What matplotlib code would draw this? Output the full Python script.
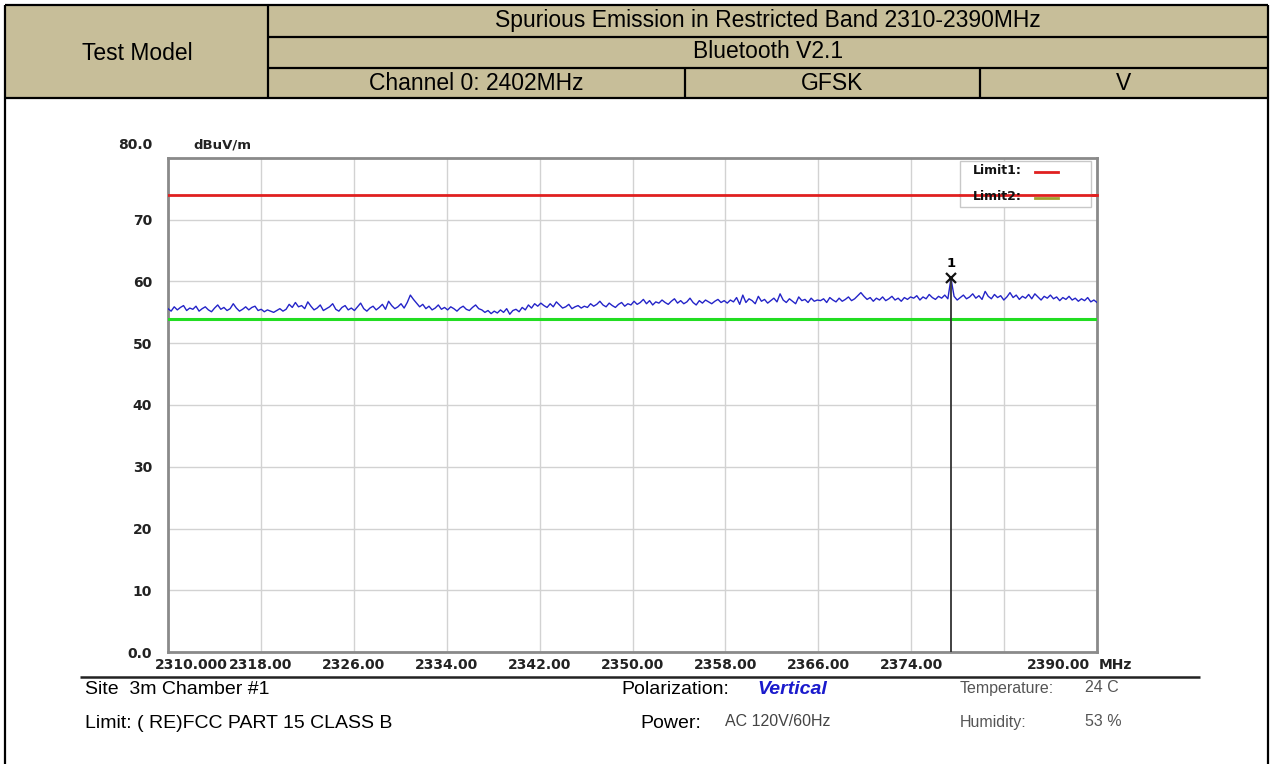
import numpy as np
import matplotlib
matplotlib.use("Agg")
import matplotlib.pyplot as plt
from matplotlib.patches import Rectangle
from matplotlib.transforms import offset_copy

# ---------------- data ----------------
freq_start = 2310.0
freq_stop = 2390.0
xtick_values = [2310, 2318, 2326, 2334, 2342, 2350, 2358, 2366, 2374, 2382, 2390]
xtick_labels = ["2310.000", "2318.00", "2326.00", "2334.00", "2342.00", "2350.00",
                "2358.00", "2366.00", "2374.00", "", "2390.00"]
ytick_values = [0, 10, 20, 30, 40, 50, 60, 70]
ytick_labels = ["0.0", "10", "20", "30", "40", "50", "60", "70"]
limit1_level = 74.0   # red
limit2_level = 54.0   # green
marker_index = 252
marker_label = "1"

trace_levels = [
    55.6, 55.2, 55.9, 55.4, 55.8, 56.1, 55.3, 55.7, 55.5, 56.0, 55.2, 55.6, 55.9, 55.4, 55.1,
    55.7, 56.2, 55.5, 55.8, 55.3, 55.6, 56.4, 55.7, 55.2, 55.5, 55.9, 55.4, 55.8, 56.0, 55.3,
    55.5, 55.1, 55.4, 55.2, 55.0, 55.3, 55.6, 55.2, 55.5, 56.3, 55.8, 56.6, 55.9, 56.1, 55.6,
    56.7, 56.0, 55.4, 55.7, 56.2, 55.3, 55.6, 55.9, 56.4, 55.5, 55.2, 55.8, 56.1, 55.4, 55.7,
    55.3, 55.9, 56.5, 55.6, 55.2, 55.7, 56.0, 55.4, 55.8, 56.3, 55.5, 56.8, 56.1, 55.6, 55.9,
    56.4, 55.7, 56.6, 57.8, 57.1, 56.5, 55.9, 56.3, 55.6, 56.0, 55.4, 55.7, 56.2, 55.5, 55.8,
    55.4, 55.9, 55.6, 55.2, 55.7, 56.0, 55.5, 55.3, 55.8, 56.2, 55.6, 55.4, 55.0, 55.3, 54.8,
    55.2, 54.9, 55.4, 55.0, 55.6, 54.7, 55.3, 55.5, 55.1, 55.8, 55.4, 56.2, 55.7, 56.4, 56.0,
    56.5, 56.1, 55.8, 56.4, 55.9, 56.7, 56.2, 55.7, 55.9, 56.3, 55.6, 55.9, 56.1, 55.7, 56.0,
    55.8, 56.4, 56.0, 56.3, 56.8, 56.2, 55.9, 56.5, 56.1, 55.8, 56.3, 56.6, 56.0, 56.4, 56.2,
    56.8, 56.3, 56.6, 57.1, 56.4, 56.9, 56.2, 56.7, 56.5, 57.0, 56.6, 56.3, 56.8, 57.2, 56.5,
    56.9, 56.4, 56.7, 57.3, 56.6, 56.2, 56.9, 56.5, 57.0, 56.7, 56.4, 56.8, 57.1, 56.6, 56.9,
    56.5, 57.0, 56.7, 57.4, 56.3, 57.8, 56.6, 57.2, 56.9, 56.4, 57.6, 56.8, 57.1, 56.5, 56.9,
    57.3, 56.7, 58.0, 57.0, 56.6, 57.2, 56.8, 56.4, 57.5, 56.9, 57.1, 56.6, 57.3, 56.8, 57.0,
    56.9, 57.2, 56.6, 57.4, 57.0, 56.7, 57.3, 56.8, 57.1, 57.5, 56.9, 57.2, 57.7, 58.2, 57.6,
    57.1, 57.4, 56.8, 57.3, 57.0, 57.5, 56.9, 57.2, 57.6, 57.0, 57.3, 56.8, 57.4, 57.1, 57.5,
    57.3, 57.7, 57.0, 57.5, 57.2, 57.9, 57.4, 57.1, 57.6, 57.3, 57.8, 57.2, 60.5, 57.6, 57.0,
    57.4, 57.8, 57.2, 57.5, 58.0, 57.3, 57.7, 57.1, 58.4, 57.6, 57.2, 57.9, 57.4, 57.7, 57.0,
    57.5, 58.2, 57.4, 57.8, 57.1, 57.6, 57.3, 57.9, 57.2, 58.0, 57.5, 57.0, 57.6, 57.3, 57.8,
    57.2, 57.5, 56.9, 57.4, 57.1, 57.6, 57.0, 57.3, 56.8, 57.2, 56.9, 57.4, 56.7, 57.0, 56.6,
]

header_title = "Spurious Emission in Restricted Band 2310-2390MHz"
header_tech = "Bluetooth V2.1"
header_channel = "Channel 0: 2402MHz"
header_mod = "GFSK"
header_pol = "V"

# ---------------- figure ----------------
W, H = 1273, 764
fig = plt.figure(figsize=(W / 100, H / 100), dpi=100)
fig.patch.set_facecolor("white")

# overlay in pixel coordinates
ov = fig.add_axes([0, 0, 1, 1], zorder=0)
ov.set_xlim(0, W)
ov.set_ylim(H, 0)
ov.axis("off")

tan = "#C7BE99"
FONT = "Liberation Sans"

# header table
ov.add_patch(Rectangle((5, 5), 1263, 93, facecolor=tan, edgecolor="none"))
lw_tab = 1.6
def hline(y, x0, x1, lw=lw_tab, color="black"):
    ov.plot([x0, x1], [y, y], color=color, lw=lw, solid_capstyle="butt")
def vline(x, y0, y1, lw=lw_tab, color="black"):
    ov.plot([x, x], [y0, y1], color=color, lw=lw, solid_capstyle="butt")

hline(5, 5, 1268)
hline(36.5, 268, 1268)
hline(67.5, 268, 1268)
hline(98, 5, 1268)
vline(5, 5, 764)
vline(1268, 5, 764)
vline(268, 5, 98)
vline(685, 67.5, 98)
vline(980, 67.5, 98)

hfs = 16.5
ov.text(137, 53, "Test Model", ha="center", va="center", fontsize=hfs, family=FONT)
ov.text(768, 21, header_title, ha="center", va="center", fontsize=hfs, family=FONT)
ov.text(768, 52, header_tech, ha="center", va="center", fontsize=hfs, family=FONT)
ov.text(476, 83, header_channel, ha="center", va="center", fontsize=hfs, family=FONT)
ov.text(832, 83, header_mod, ha="center", va="center", fontsize=hfs, family=FONT)
ov.text(1124, 83, header_pol, ha="center", va="center", fontsize=hfs, family=FONT)

# ---------------- plot axes ----------------
L, R, T, B = 168, 1097, 158, 652
ax = fig.add_axes([L / W, 1 - B / H, (R - L) / W, (B - T) / H], zorder=2)
ax.set_xlim(freq_start, freq_stop)
ax.set_ylim(0, 80)
ax.set_facecolor("white")

tick_fs = 10
ax.set_xticks(xtick_values)
ax.set_xticklabels([])
ax.set_yticks(ytick_values)
ax.set_yticklabels(ytick_labels, fontsize=tick_fs, fontweight="bold", family="DejaVu Sans",
                   color="#222222")
ax.tick_params(length=0, pad=11.5)
ax.grid(True, color="#D2D2D2", lw=1.0)
ax.set_axisbelow(True)
for s in ax.spines.values():
    s.set_color("#8A8A8A")
    s.set_linewidth(2)

freqs = np.linspace(freq_start, freq_stop, len(trace_levels))
ax.axhline(limit2_level, color="#22DD22", lw=2.2, zorder=3)
ax.plot(freqs, trace_levels, color="#2424C8", lw=1.0, zorder=4)
ax.axhline(limit1_level, color="#E02020", lw=2.0, zorder=6)

mx, my = freqs[marker_index], trace_levels[marker_index]
ax.plot([mx, mx], [0, my], color="#333333", lw=1.3, zorder=5)
ax.plot([mx], [my], marker="x", color="#111111", ms=7, mew=1.6, zorder=7)
ax.annotate(marker_label, (mx, my), xytext=(0, 6), textcoords="offset points",
            ha="center", va="bottom", fontsize=9.5, fontweight="bold", family="DejaVu Sans")

# x tick labels (manual)
for v, lab in zip(xtick_values, xtick_labels):
    if not lab:
        continue
    if v == freq_start:
        tr = offset_copy(ax.get_xaxis_transform(), fig=fig, x=-13, y=-6, units="dots")
        ha = "left"
    elif v == freq_stop:
        tr = offset_copy(ax.get_xaxis_transform(), fig=fig, x=-7, y=-6, units="dots")
        ha = "right"
    else:
        tr = offset_copy(ax.get_xaxis_transform(), fig=fig, x=0, y=-6, units="dots")
        ha = "center"
    ax.text(v, 0, lab, transform=tr, ha=ha, va="top", fontsize=tick_fs, fontweight="bold",
            family="DejaVu Sans", color="#222222")
ov.text(1099, 665, "MHz", ha="left", va="center", fontsize=tick_fs, fontweight="bold",
        family="DejaVu Sans", color="#222222")
ov.text(152, 145, "80.0", ha="right", va="center", fontsize=tick_fs, fontweight="bold",
        family="DejaVu Sans", color="#222222")
ov.text(193, 145, "dBuV/m", ha="left", va="center", fontsize=9.5, fontweight="bold",
        family="DejaVu Sans", color="#222222")

# legend box (pixel overlay on top of axes)
lg = fig.add_axes([0, 0, 1, 1], zorder=5)
lg.set_xlim(0, W)
lg.set_ylim(H, 0)
lg.axis("off")
lg.add_patch(Rectangle((960, 161), 131, 46, facecolor="white", edgecolor="#C8C8C8", lw=1))
lg.text(973, 171, "Limit1:", ha="left", va="center", fontsize=9, fontweight="bold",
        family="DejaVu Sans", color="#111111")
lg.text(973, 197, "Limit2:", ha="left", va="center", fontsize=9, fontweight="bold",
        family="DejaVu Sans", color="#111111")
lg.plot([1035, 1058], [172, 172], color="#E02020", lw=2)
lg.plot([1035, 1058], [198, 198], color="#A0A030", lw=2)
# limit1 line crosses legend in reference
lg.plot([960, 1097], [195, 195], color="#E02020", lw=2.0)

# separator and info text
hline(677, 80, 1200, lw=1.8, color="#222222")
ifs = 14
ov.text(85, 689, "Site  3m Chamber #1", ha="left", va="center", fontsize=ifs, family=FONT)
ov.text(85, 723, "Limit: ( RE)FCC PART 15 CLASS B", ha="left", va="center", fontsize=ifs, family=FONT)
ov.text(621, 690, "Polarization:", ha="left", va="center", fontsize=ifs, family=FONT)
ov.text(757, 690, "Vertical", ha="left", va="center", fontsize=ifs, family=FONT,
        color="#1A1ACC", fontweight="bold", style="italic")
ov.text(640, 723, "Power:", ha="left", va="center", fontsize=ifs, family=FONT)
ov.text(725, 721, "AC 120V/60Hz", ha="left", va="center", fontsize=11.5, family=FONT, color="#444444")
ov.text(960, 688, "Temperature:", ha="left", va="center", fontsize=11.5, family=FONT, color="#555555")
ov.text(1085, 688, "24 C", ha="left", va="center", fontsize=11.5, family=FONT, color="#555555")
ov.text(960, 722, "Humidity:", ha="left", va="center", fontsize=11.5, family=FONT, color="#555555")
ov.text(1085, 722, "53 %", ha="left", va="center", fontsize=11.5, family=FONT, color="#555555")

fig.savefig("out.png", dpi=100, facecolor="white")
